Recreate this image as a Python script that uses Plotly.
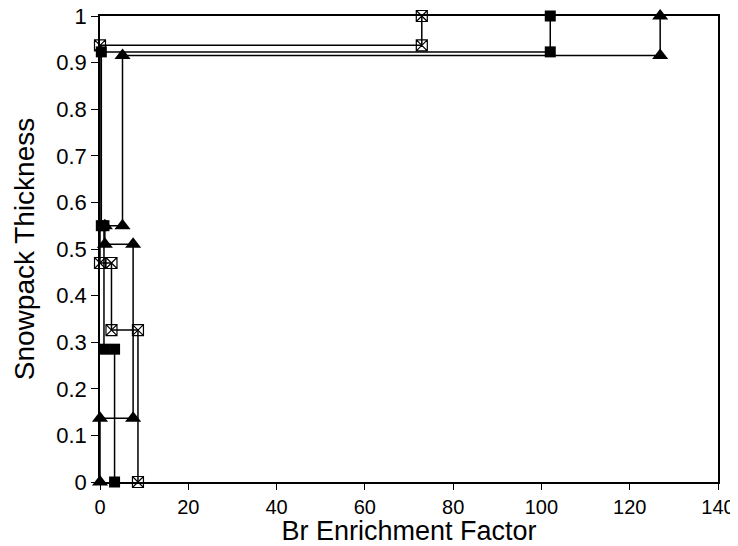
import plotly.graph_objects as go

# Step profiles: Br enrichment factor vs normalized snowpack thickness
sq_ef = [3.3, 3.3, 0.9, 0.9, 0.3, 0.3, 102.0, 102.0]
sq_th = [0.0, 0.285, 0.285, 0.55, 0.55, 0.923, 0.923, 1.0]

xs_ef = [8.6, 8.6, 2.6, 2.6, 0.0, 0.0, 72.9, 72.9]
xs_th = [0.0, 0.326, 0.326, 0.47, 0.47, 0.937, 0.937, 1.0]

tr_ef = [0.0, 0.0, 7.5, 7.5, 1.1, 1.1, 5.1, 5.1, 126.9, 126.9]
tr_th = [0.0, 0.137, 0.137, 0.51, 0.51, 0.55, 0.55, 0.915, 0.915, 1.0]

x_ticks = [0, 20, 40, 60, 80, 100, 120, 140]
y_ticks = [0, 0.1, 0.2, 0.3, 0.4, 0.5, 0.6, 0.7, 0.8, 0.9, 1]
y_labels = ["0", "0.1", "0.2", "0.3", "0.4", "0.5", "0.6", "0.7", "0.8", "0.9", "1"]

fig = go.Figure()
line = dict(color="black", width=1.5)
fig.add_trace(go.Scatter(x=xs_ef, y=xs_th, mode="lines+markers", line=line,
                         marker=dict(symbol="square-x-open", size=11, color="black",
                                     line=dict(color="black", width=1.2)),
                         cliponaxis=False, showlegend=False))
fig.add_trace(go.Scatter(x=sq_ef, y=sq_th, mode="lines+markers", line=line,
                         marker=dict(symbol="square", size=11, color="black"),
                         cliponaxis=False, showlegend=False))
fig.add_trace(go.Scatter(x=tr_ef, y=tr_th, mode="lines+markers", line=line,
                         marker=dict(symbol="triangle-up", size=14, color="black"),
                         cliponaxis=False, showlegend=False))

font = dict(family="Liberation Sans, Arial, sans-serif", color="black")
# page body has an 8px margin, so the figure starts 8px in from the top-left
fig.update_layout(
    width=730, height=538,
    margin=dict(l=92, r=20, t=8, b=64),
    paper_bgcolor="white", plot_bgcolor="white",
    font=font,
    xaxis=dict(range=[0, 140], tickvals=x_ticks, ticks="outside", ticklen=6,
               tickcolor="black", showline=True, linecolor="black", linewidth=1.5,
               mirror=True, showgrid=False, zeroline=False, automargin=False,
               ticklabeloverflow="allow",
               tickfont=dict(size=20, **font),
               title=dict(text="Br Enrichment Factor", font=dict(size=27, **font), standoff=4)),
    yaxis=dict(range=[0, 1], tickvals=y_ticks, ticktext=y_labels, ticks="outside", ticklen=7,
               tickcolor="black", showline=True, linecolor="black", linewidth=1.5,
               mirror=True, showgrid=False, zeroline=False, automargin=False,
               ticklabeloverflow="allow",
               tickfont=dict(size=22, **font),
               title=dict(text="Snowpack Thickness", font=dict(size=28, **font), standoff=13)),
)
fig.write_html("out.html")
